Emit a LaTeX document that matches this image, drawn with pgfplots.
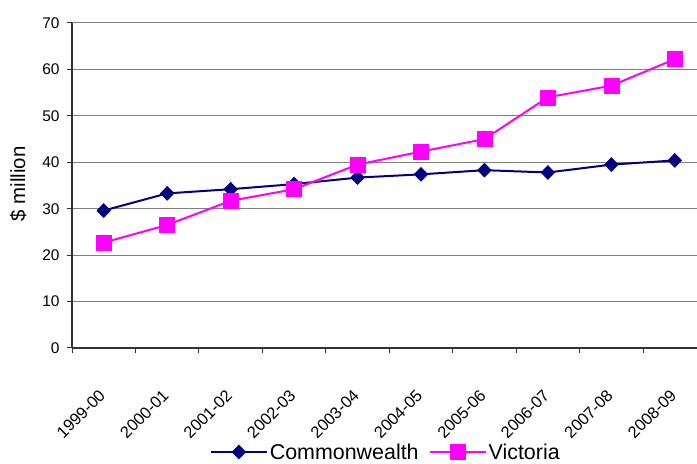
\documentclass[border=0pt]{standalone}
\usepackage{pgfplots}
\pgfplotsset{compat=1.18}
\usepackage{fontspec}
\setmainfont{Liberation Sans}
\definecolor{navyc}{RGB}{0,0,128}
\definecolor{magc}{RGB}{255,0,255}
\begin{document}
\begin{tikzpicture}[x=1bp,y=1bp]
\path[use as bounding box] (0,0) rectangle (697,464);
\begin{axis}[
  at={(72bp,116bp)}, anchor=south west,
  width=625bp, height=325bp, scale only axis,
  xmin=-0.5, xmax=9.35, ymin=0, ymax=70,
  axis lines*=left,
  axis line style={draw=black!80, line width=1.5bp},
  ytick={0,10,...,70},
  ymajorgrids,
  grid style={draw=black!50, line width=1bp},
  xtick={0,...,9},
  xticklabels={1999-00,2000-01,2001-02,2002-03,2003-04,2004-05,2005-06,2006-07,2007-08,2008-09},
  major x tick style={draw=none},
  minor xtick={-0.5,0.5,...,8.5},
  tick align=outside,
  major tick length=5bp, minor tick length=5bp,
  tick style={draw=black!80, line width=1bp},
  x tick label style={rotate=45, anchor=north east, font=\fontsize{16.5}{18}\selectfont, inner sep=1bp, yshift=-20bp, xshift=-28bp},
  y tick label style={font=\fontsize{15.5}{17}\selectfont, xshift=-4bp},
  /pgf/number format/assume math mode=true,
  ylabel={\fontsize{20.5}{22}\selectfont\$ million},
  ylabel style={at={(axis description cs:-0.086,0.505)}, anchor=center},
  legend style={at={(axis description cs:0.502,-0.32)}, anchor=center, draw=none, fill=none,
    legend columns=2, font=\fontsize{21.5}{23}\selectfont,
    /tikz/every even column/.append style={column sep=8bp}},
  legend image code/.code={\draw[mark repeat=2,mark phase=2,#1] plot coordinates {(0bp,0bp) (28bp,0bp) (56bp,0bp)};},
]
\addplot[color=navyc, line width=2bp, mark=diamond*, mark size=7bp, mark options={fill=navyc, line width=0.5bp, xscale=1.3}]
  coordinates {(0,29.6) (1,33.3) (2,34.2) (3,35.3) (4,36.7) (5,37.4) (6,38.3) (7,37.8) (8,39.5) (9,40.4)};
\addlegendentry{Commonwealth}
\addplot[color=magc, line width=2bp, mark=square*, mark size=7.5bp, mark options={fill=magc, line width=0.5bp}]
  coordinates {(0,22.7) (1,26.5) (2,31.7) (3,34.2) (4,39.5) (5,42.3) (6,45.0) (7,54.0) (8,56.5) (9,62.2)};
\addlegendentry{Victoria}
\end{axis}
\end{tikzpicture}
\end{document}
